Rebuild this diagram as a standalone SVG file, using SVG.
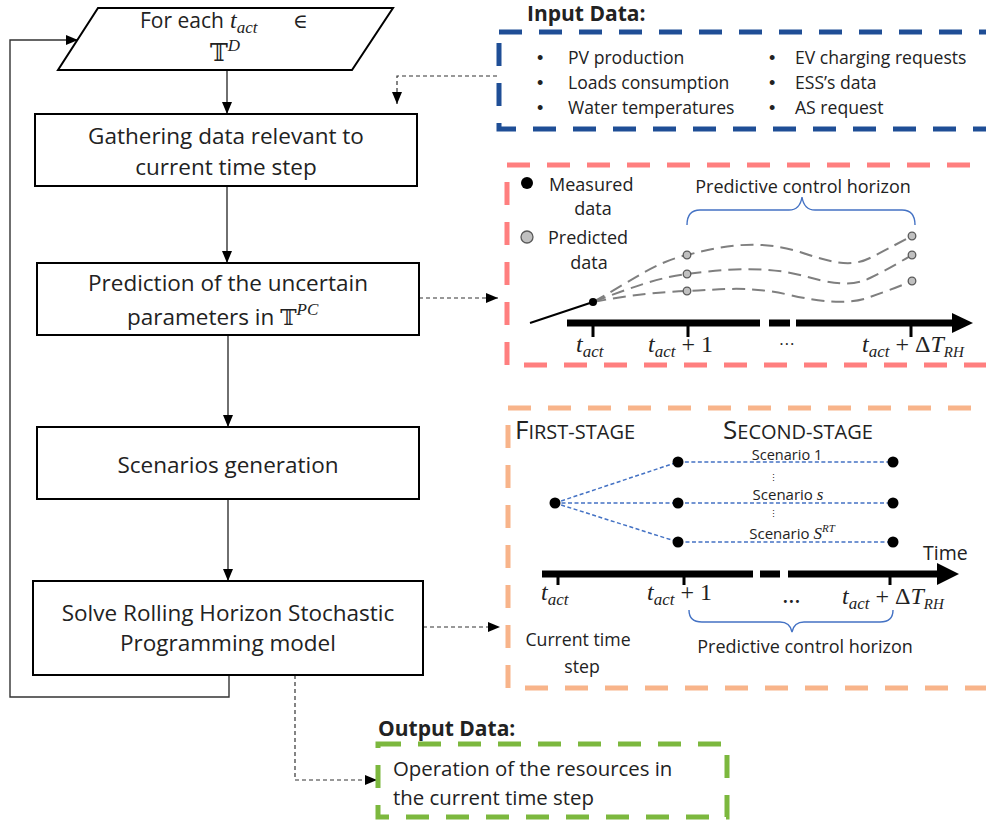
<svg xmlns="http://www.w3.org/2000/svg" width="986" height="822" viewBox="0 0 986 822">
<defs>
<marker id="ah" viewBox="0 0 12 10" refX="12" refY="5" markerWidth="12" markerHeight="10" markerUnits="userSpaceOnUse" orient="auto"><path d="M0,0 L12,5 L0,10z" fill="#000"/></marker>
<style>
.box{fill:#fff;stroke:#000;stroke-width:2}
.t{font-family:"Open Sans","Liberation Sans",sans-serif;fill:#222}
.b{font-family:"Liberation Sans",sans-serif;fill:#222}
.m{font-family:"Liberation Serif","DejaVu Serif",serif;font-style:italic;fill:#222}
.ds{font-family:"DejaVu Serif","DejaVu Sans",serif;font-style:normal}
.flow{fill:none;stroke:#333;stroke-width:1.4}
.dash{fill:none;stroke:#333;stroke-width:1.2;stroke-dasharray:4 3}
.frame{fill:none;stroke-width:5;stroke-dasharray:23 17}
.axis{fill:none;stroke:#000;stroke-width:7}
.tick{stroke:#000;stroke-width:3}
.pred{fill:none;stroke:#7f7f7f;stroke-width:2;stroke-dasharray:13 7}
.pc{fill:#c0c0c0;stroke:#595959;stroke-width:1.3}
.brace{fill:none;stroke:#4472c4;stroke-width:1.4}
.scn{fill:none;stroke:#4472c4;stroke-width:1.5;stroke-dasharray:4 2.5}
</style>
</defs>

<g id="connectors">
<path class="flow" d="M227,70 V114" marker-end="url(#ah)"/>
<path class="flow" d="M227,186 V263" marker-end="url(#ah)"/>
<path class="flow" d="M228,335 V427" marker-end="url(#ah)"/>
<path class="flow" d="M228,499 V581" marker-end="url(#ah)"/>
<path class="flow" stroke="#555" d="M229,675 V697 H10 V40 H78" marker-end="url(#ah)"/>
<path class="dash" d="M497,76 H397 V104" marker-end="url(#ah)"/>
<path class="dash" d="M419,298 H498" marker-end="url(#ah)"/>
<path class="dash" d="M423,627 H500" marker-end="url(#ah)"/>
<path class="dash" d="M295,675 V780 H377" marker-end="url(#ah)"/>
</g>

<g id="loop-start">
<polygon class="box" points="98,8 393,8 352,70 58,70"/>
<text class="t" font-size="21" x="140" y="28">For each</text>
<text class="m" font-size="24" x="230" y="28">t<tspan font-size="17" dy="5">act</tspan></text>
<text class="ds" font-size="20" x="293" y="28" fill="#222">∈</text>
<text class="t" font-size="24" y="61"><tspan x="210" class="ds">𝕋</tspan><tspan class="m" font-size="17" dy="-10">D</tspan></text>
</g>

<g id="gathering">
<rect class="box" x="35" y="114" width="382" height="72"/>
<text class="t" font-size="22.5" text-anchor="middle"><tspan x="226" y="144">Gathering data relevant to</tspan><tspan x="226" y="175">current time step</tspan></text>
</g>

<g id="prediction">
<rect class="box" x="37" y="263" width="382" height="72"/>
<text class="t" font-size="22.5" text-anchor="middle" x="228" y="291">Prediction of the uncertain</text>
<text class="t" font-size="22.5" y="325"><tspan x="127">parameters in </tspan><tspan class="ds" font-size="22">𝕋</tspan><tspan class="m" font-size="17" dy="-10">PC</tspan></text>
</g>

<g id="scenarios">
<rect class="box" x="37" y="427" width="382" height="72"/>
<text class="t" font-size="22.5" text-anchor="middle" x="228" y="473">Scenarios generation</text>
</g>

<g id="solve">
<rect class="box" x="33" y="581" width="390" height="94"/>
<text class="t" font-size="22.5" text-anchor="middle"><tspan x="228" y="621">Solve Rolling Horizon Stochastic</tspan><tspan x="228" y="651">Programming model</tspan></text>
</g>

<g id="input-data">
<text class="t" font-size="21" font-weight="bold" fill="#111" x="527" y="21">Input Data:</text>
<rect class="frame" stroke="#1f4e96" x="499" y="32" width="520" height="97"/>
<g class="b" font-size="18">
<text x="537" y="64">•</text><text x="537" y="89">•</text><text x="537" y="114">•</text>
<text x="769" y="64">•</text><text x="769" y="89">•</text><text x="769" y="114">•</text>
</g>
<g class="t" font-size="17.6">
<text x="568" y="64">PV production</text>
<text x="568" y="89">Loads consumption</text>
<text x="568" y="114">Water temperatures</text>
<text x="795" y="64">EV charging requests</text>
<text x="795" y="89">ESS’s data</text>
<text x="795" y="114">AS request</text>
</g>
</g>

<g id="prediction-panel">
<rect class="frame" stroke="#ff7f7f" x="507" y="165" width="520" height="200"/>
<circle cx="527" cy="183" r="6" fill="#000"/>
<circle cx="527" cy="237" r="6" class="pc"/>
<text class="t" font-size="18" x="549" y="191">Measured</text>
<text class="t" font-size="18" x="593" y="215" text-anchor="middle">data</text>
<text class="t" font-size="18" x="548" y="244">Predicted</text>
<text class="t" font-size="18" x="589" y="269" text-anchor="middle">data</text>
<text class="t" font-size="18" x="803" y="193" text-anchor="middle">Predictive control horizon</text>
<path class="brace" d="M687,225 Q687,210 700,210 H789 Q800,210 802,197 Q804,210 815,210 H902 Q915,210 915,225"/>
<path class="pred" d="M593,302 C630,282 655,262 687,255 C730,244 760,240 800,252 C830,262 850,268 870,258 C890,248 900,242 912,236"/>
<path class="pred" d="M593,302 C630,288 660,277 687,274 C720,270 760,265 800,275 C830,283 850,288 870,278 C890,268 900,262 912,255"/>
<path class="pred" d="M593,302 C630,295 660,292 687,291 C720,290 745,285 790,295 C820,302 850,305 870,297 C890,290 900,286 912,281"/>
<circle cx="687" cy="255" r="3.8" class="pc"/><circle cx="687" cy="274" r="3.8" class="pc"/><circle cx="687" cy="291" r="3.8" class="pc"/>
<circle cx="912" cy="236" r="3.8" class="pc"/><circle cx="912" cy="255" r="3.8" class="pc"/><circle cx="912" cy="281" r="3.8" class="pc"/>
<path d="M530,323 L593,302" stroke="#000" stroke-width="2"/>
<circle cx="593" cy="302" r="4" fill="#000"/>
<path class="axis" d="M567,323 H760 M769,323 H790 M796,323 H954"/>
<polygon points="952,313 973,323 952,333" fill="#000"/>
<path class="tick" d="M593,323 V337 M688,323 V337 M911,323 V337"/>
<text class="m" font-size="24" x="576" y="352">t<tspan font-size="17" dy="5">act</tspan></text>
<text class="m" font-size="24" x="648" y="352">t<tspan font-size="17" dy="5">act</tspan><tspan font-style="normal" dy="-5"> + 1</tspan></text>
<text class="m" font-size="16" x="787" y="345" font-style="normal" text-anchor="middle">…</text>
<text class="m" font-size="24" x="862" y="352">t<tspan font-size="17" dy="5">act</tspan><tspan font-style="normal" dy="-5"> + Δ</tspan>T<tspan font-size="15" dy="5">RH</tspan></text>
</g>

<g id="scenario-panel">
<rect class="frame" stroke="#f8b48a" x="508" y="408" width="520" height="280"/>
<text class="t" font-size="26" x="515" y="439">F<tspan font-size="20">IRST-STAGE</tspan></text>
<text class="t" font-size="26" x="723" y="439">S<tspan font-size="20">ECOND-STAGE</tspan></text>
<path class="scn" d="M555,503 L678,462 H893 M555,503 H893 M555,503 L678,542 H893"/>
<circle cx="555" cy="503" r="5.5" fill="#000"/>
<circle cx="678" cy="462" r="5.5" fill="#000"/><circle cx="678" cy="503" r="5.5" fill="#000"/><circle cx="678" cy="542" r="5.5" fill="#000"/>
<circle cx="893" cy="462" r="5.5" fill="#000"/><circle cx="893" cy="503" r="5.5" fill="#000"/><circle cx="893" cy="542" r="5.5" fill="#000"/>
<text class="t" font-size="14.5" x="787" y="460" text-anchor="middle">Scenario 1</text>
<text class="t" font-size="9" x="773" y="481" text-anchor="middle">⋮</text>
<text class="t" font-size="15" x="788" y="500" text-anchor="middle">Scenario <tspan class="m" font-size="17">s</tspan></text>
<text class="t" font-size="9" x="773" y="517" text-anchor="middle">⋮</text>
<text class="t" font-size="15" x="792" y="539" text-anchor="middle">Scenario <tspan class="m" font-size="17">S</tspan><tspan class="m" font-size="11" dy="-7">RT</tspan></text>
<text class="t" font-size="19.5" x="923" y="560">Time</text>
<path class="axis" stroke-width="8" d="M542,574 H753 M760,574 H780 M788,574 H940"/>
<polygon points="937,563 959,574 937,585" fill="#000"/>
<path class="tick" d="M558,574 V585 M684,574 V585 M890,574 V585"/>
<text class="m" font-size="24" x="541" y="600">t<tspan font-size="17" dy="5">act</tspan></text>
<text class="m" font-size="24" x="647" y="600">t<tspan font-size="17" dy="5">act</tspan><tspan font-style="normal" dy="-5"> + 1</tspan></text>
<text class="m" font-size="18" x="792" y="603" font-style="normal" font-weight="bold" text-anchor="middle">…</text>
<text class="m" font-size="24" x="842" y="604">t<tspan font-size="17" dy="5">act</tspan><tspan font-style="normal" dy="-5"> + Δ</tspan>T<tspan font-size="15" dy="5">RH</tspan></text>
<path class="brace" d="M689,610 Q689,622 702,622 H780 Q790,622 792,632 Q794,622 804,622 H880 Q893,622 893,610"/>
<text class="t" font-size="17.7" x="578" y="646" text-anchor="middle">Current time</text>
<text class="t" font-size="17.7" x="582" y="673" text-anchor="middle">step</text>
<text class="t" font-size="18" x="805" y="653" text-anchor="middle">Predictive control horizon</text>
</g>

<g id="output-data">
<text class="t" font-size="21" font-weight="bold" fill="#111" x="378" y="736">Output Data:</text>
<rect class="frame" stroke="#7cb83e" x="378" y="744" width="349" height="73"/>
<text class="t" font-size="20.4"><tspan x="393" y="776">Operation of the resources in</tspan><tspan x="393" y="805">the current time step</tspan></text>
</g>
</svg>
